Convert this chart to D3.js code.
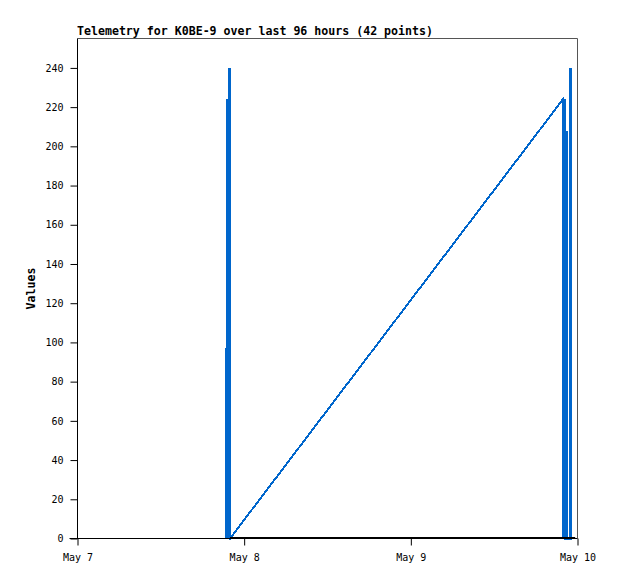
<!DOCTYPE html>
<html>
<head>
<meta charset="utf-8">
<script src="https://cdn.jsdelivr.net/npm/d3@7"></script>
<style>
  body { margin: 0; background: #fff; }
  svg { display: block; }
  text { font-family: "DejaVu Sans Mono", "Liberation Mono", monospace; }
</style>
</head>
<body>
<svg id="chart" width="618" height="579"></svg>
<script>
// ---- data ----
const title = "Telemetry for K0BE-9 over last 96 hours (42 points)";
const yLabel = "Values";
const times = [
  "2024-05-07T21:20", "2024-05-07T21:23", "2024-05-07T21:25", "2024-05-07T21:27",
  "2024-05-07T21:29", "2024-05-07T21:32", "2024-05-07T21:35", "2024-05-07T21:38",
  "2024-05-07T21:40", "2024-05-07T21:43", "2024-05-07T21:46", "2024-05-07T21:50",
  "2024-05-07T21:52", "2024-05-07T21:54", "2024-05-07T21:56", "2024-05-07T21:58",
  "2024-05-09T21:54", "2024-05-09T21:55", "2024-05-09T21:56", "2024-05-09T21:58",
  "2024-05-09T22:00", "2024-05-09T22:06", "2024-05-09T22:08", "2024-05-09T22:12",
  "2024-05-09T22:14", "2024-05-09T22:18", "2024-05-09T22:24", "2024-05-09T22:26",
  "2024-05-09T22:28", "2024-05-09T22:30", "2024-05-09T22:32", "2024-05-09T22:40",
  "2024-05-09T22:52", "2024-05-09T22:56", "2024-05-09T22:58", "2024-05-09T23:00",
  "2024-05-09T23:02", "2024-05-09T23:04", "2024-05-09T23:06", "2024-05-09T23:08",
  "2024-05-09T23:12", "2024-05-09T23:14"
];
const values = [
  0, 97, 0, 97,
  0, 224, 0, 224,
  0, 224, 0, 240,
  0, 240, 0, 0,
  224, 112, 0, 112,
  0, 224, 0, 224,
  0, 0, 208, 160,
  208, 160, 0, 0,
  0, 240, 0, 240,
  224, 0, 224, 0,
  0, 0
];
const xDomain = ["2024-05-07T00:00", "2024-05-10T00:00"];
const xTickDays = ["2024-05-07T00:00", "2024-05-08T00:00", "2024-05-09T00:00", "2024-05-10T00:00"];
const xTickLabels = ["May 7", "May 8", "May 9", "May 10"];
const yMax = 255;
const yTicks = [0, 20, 40, 60, 80, 100, 120, 140, 160, 180, 200, 220, 240];

// ---- layout ----
const pL = 77.5, pR = 577.5, pT = 38.5, pB = 538.5;
const svg = d3.select("#chart");
const parse = d3.timeParse("%Y-%m-%dT%H:%M");
const data = times.map((t, i) => ({ t: parse(t), v: values[i] }));

const x = d3.scaleTime().domain(xDomain.map(parse)).range([pL, pR]);
const y = d3.scaleLinear().domain([0, yMax]).range([pB, pT]);

// frame (top and right grey)
svg.append("line").attr("x1", pL).attr("x2", pR).attr("y1", pT).attr("y2", pT)
  .attr("stroke", "#555").attr("stroke-width", 1);
svg.append("line").attr("x1", pR).attr("x2", pR).attr("y1", pT).attr("y2", pB)
  .attr("stroke", "#555").attr("stroke-width", 1);

// data line
const line = d3.line().x(d => x(d.t)).y(d => y(d.v));
svg.append("path").datum(data)
  .attr("d", line)
  .attr("fill", "none")
  .attr("stroke", "#0066cc")
  .attr("stroke-width", 2)
  .attr("stroke-linejoin", "miter")
  .attr("shape-rendering", "crispEdges");

// baseline run at zero from the last early point to the end
const zeroStart = data[15], zeroEnd = data[data.length - 1];
svg.append("line")
  .attr("x1", x(zeroStart.t)).attr("x2", x(zeroEnd.t) + 3)
  .attr("y1", y(0) - 1).attr("y2", y(0) - 1)
  .attr("stroke", "#000").attr("stroke-width", 1);

// y axis
const yAxis = d3.axisLeft(y).tickValues(yTicks).tickSize(7).tickPadding(7).tickFormat(d3.format("d"));
const gy = svg.append("g").attr("transform", `translate(${pL},0)`).call(yAxis);
gy.select(".domain").attr("stroke", "#000").attr("d", `M0,${pT}V${pB}`);
gy.selectAll(".tick line").attr("stroke", "#000");
gy.selectAll(".tick text").attr("font-size", 10).attr("fill", "#000")
  .attr("font-family", "DejaVu Sans Mono, monospace");

// x axis
const xAxis = d3.axisBottom(x).tickValues(xTickDays.map(parse)).tickSize(7).tickPadding(8)
  .tickFormat((d, i) => xTickLabels[i]);
const gx = svg.append("g").attr("transform", `translate(0,${pB})`).call(xAxis);
gx.select(".domain").attr("stroke", "#000").attr("d", `M${pL - 8},0H${pR}`);
gx.selectAll(".tick line").attr("stroke", "#000");
gx.selectAll(".tick text").attr("font-size", 10).attr("fill", "#000")
  .attr("font-family", "DejaVu Sans Mono, monospace");

// title
svg.append("text").attr("x", pL - 0.5).attr("y", 35)
  .attr("font-size", 11.6).attr("font-weight", "bold").attr("fill", "#000")
  .text(title);

// y label
svg.append("text")
  .attr("transform", `translate(35,${(pT + pB) / 2}) rotate(-90)`)
  .attr("text-anchor", "middle")
  .attr("font-size", 11.6).attr("font-weight", "bold").attr("fill", "#000")
  .text(yLabel);
</script>
</body>
</html>
